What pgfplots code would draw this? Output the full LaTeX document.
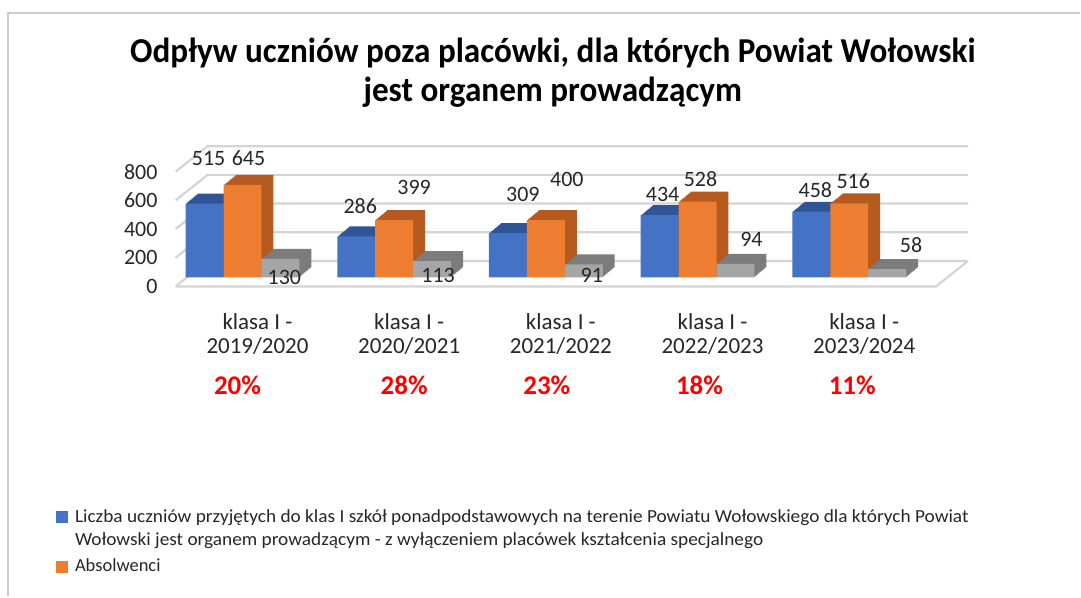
\documentclass[border=0pt]{standalone}
\usepackage{pgfplots}
\pgfplotsset{compat=1.18}
\usepackage{pgfplotstable}
\usepackage{fontspec}
\setmainfont{Carlito}
\definecolor{cblue}{HTML}{4472C4}
\definecolor{cbluedk}{HTML}{2F5597}
\definecolor{corange}{HTML}{ED7D31}
\definecolor{corangedk}{HTML}{B65A1F}
\definecolor{cgray}{HTML}{A5A5A5}
\definecolor{cgraydk}{HTML}{7C7C7C}
\definecolor{gridc}{HTML}{D4D4D4}
\definecolor{txt}{HTML}{262626}

\pgfplotstableread{
x y
0 515
1 286
2 309
3 434
4 458
}\przyjeci
\pgfplotstableread{
x y
0 645
1 399
2 400
3 528
4 516
}\absolwenci
\pgfplotstableread{
x y
0 130
1 113
2 91
3 94
4 58
}\odplyw

\begin{document}
\begin{tikzpicture}
\path (0pt,0pt) rectangle (1081pt,-596pt);
% frame
\draw[color=gray!40, line width=2.5pt] (8pt,-597pt) -- (8pt,-13pt) -- (1082pt,-13pt);
% title
\node[font=\fontsize{35}{39}\selectfont\bfseries, anchor=base, inner sep=0pt] at (554pt,-63pt) {\scalebox{0.95}[1]{Odpływ uczniów poza placówki, dla których Powiat Wołowski}};
\node[font=\fontsize{35}{39}\selectfont\bfseries, anchor=base, inner sep=0pt] at (554pt,-102pt) {\scalebox{0.95}[1]{jest organem prowadzącym}};
% walls and floor
\foreach \yf in {-287,-258.25,-229.5,-200.75,-172}{
  \pgfmathsetmacro{\yb}{\yf+25.5}
  \draw[gridc, line width=2.2pt] (176pt,\yf pt) -- (208pt,\yb pt) -- (970pt,\yb pt);
}
\draw[gridc, line width=2.2pt] (176pt,-287pt) -- (938pt,-287pt) -- (970pt,-261.5pt);

\begin{axis}[
  at={(167pt,-278pt)}, anchor=south west,
  scale only axis, width=760pt, height=115pt,
  xmin=-0.5, xmax=4.5, ymin=0, ymax=800,
  axis line style={draw=none}, tick style={draw=none}, major tick length=0pt,
  clip=false,
  /pgf/number format/assume math mode=true,
  ytick={0,200,400,600,800},
  yticklabel style={font=\fontsize{22}{24}\selectfont, text=txt, anchor=east, inner sep=0pt, xshift=-9pt, yshift=-9pt},
  xtick={0,1,2,3,4},
  xticklabels={{klasa I -\\2019/2020},{klasa I -\\2020/2021},{klasa I -\\2021/2022},{klasa I -\\2022/2023},{klasa I -\\2023/2024}},
  xticklabel style={font=\fontsize{23}{24}\selectfont, text=txt, align=center, anchor=north, inner sep=0pt, xshift=15pt, yshift=-36pt},
]
% blue
\pgfplotsinvokeforeach{12,11,...,1}{
  \addplot[ybar, bar width=38pt, bar shift=-38pt, fill=cbluedk, draw=none, xshift=#1pt, yshift=#1*0.833pt, forget plot] table {\przyjeci};
}
\addplot[ybar, bar width=38pt, bar shift=-38pt, fill=cblue, draw=none] table {\przyjeci};
% orange
\pgfplotsinvokeforeach{12,11,...,1}{
  \addplot[ybar, bar width=38pt, bar shift=0pt, fill=corangedk, draw=none, xshift=#1pt, yshift=#1*0.833pt, forget plot] table {\absolwenci};
}
\addplot[ybar, bar width=38pt, bar shift=0pt, fill=corange, draw=none] table {\absolwenci};
% gray
\pgfplotsinvokeforeach{12,11,...,1}{
  \addplot[ybar, bar width=38pt, bar shift=38pt, fill=cgraydk, draw=none, xshift=#1pt, yshift=#1*0.833pt, forget plot] table {\odplyw};
}
\addplot[ybar, bar width=38pt, bar shift=38pt, fill=cgray, draw=none] table {\odplyw};
\end{axis}

% data labels
\begin{scope}[every node/.style={font=\fontsize{22}{24}\selectfont, text=txt, anchor=base, inner sep=0pt}]
\node at (209pt,-166pt) {515};
\node at (249pt,-166pt) {645};
\node at (285pt,-285pt) {130};
\node at (361pt,-214pt) {286};
\node at (415pt,-195pt) {399};
\node at (439pt,-283pt) {113};
\node at (524pt,-202pt) {309};
\node at (568pt,-187pt) {400};
\node at (593pt,-283pt) {91};
\node at (664pt,-202pt) {434};
\node at (702pt,-187pt) {528};
\node at (753pt,-247pt) {94};
\node at (817pt,-198pt) {458};
\node at (855pt,-189pt) {516};
\node at (913pt,-253pt) {58};
\end{scope}

% percentages
\begin{scope}[every node/.style={font=\fontsize{27}{29}\selectfont\bfseries, text=red, anchor=base, inner sep=0pt}]
\node at (238pt,-395pt) {20\%};
\node at (405pt,-395pt) {28\%};
\node at (548pt,-395pt) {23\%};
\node at (701pt,-395pt) {18\%};
\node at (854pt,-395pt) {11\%};
\end{scope}

% legend
\fill[cblue] (56pt,-512pt) rectangle (68pt,-524pt);
\fill[corange] (56pt,-562pt) rectangle (68pt,-574pt);
\begin{scope}[every node/.style={font=\fontsize{18.5}{23}\selectfont, text=txt, anchor=base west, inner sep=0pt}]
\node at (75pt,-524pt) {\scalebox{1.045}[1]{Liczba uczniów przyjętych do klas I szkół ponadpodstawowych na terenie Powiatu Wołowskiego dla których Powiat}};
\node at (75pt,-547pt) {\scalebox{1.045}[1]{Wołowski jest organem prowadzącym - z wyłączeniem placówek kształcenia specjalnego}};
\node at (75pt,-573pt) {Absolwenci};
\end{scope}
\end{tikzpicture}
\end{document}
